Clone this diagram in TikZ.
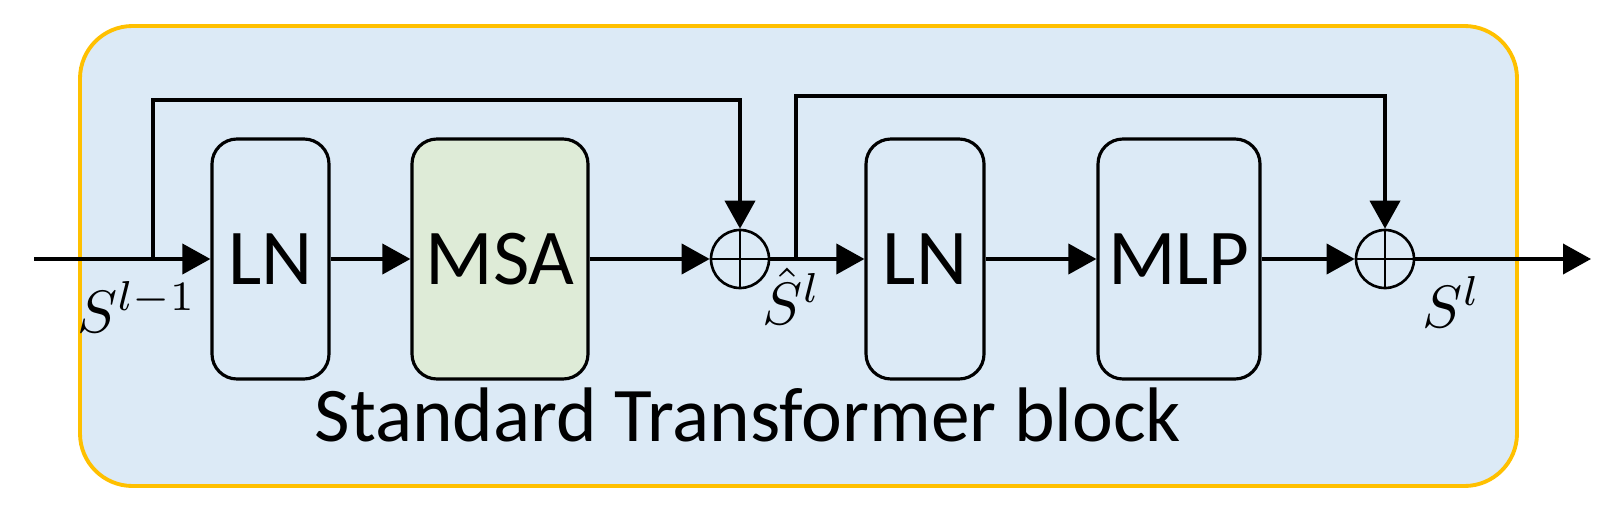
\documentclass[tikz,border=0pt]{standalone}
\usepackage{amsmath}
\usepackage{graphicx}
\usepackage{fontspec}
\setmainfont{Carlito}
\usepackage{tikz}
\usetikzlibrary{positioning, arrows.meta, calc}
\usepackage{xcolor}
\definecolor{blockblue}{HTML}{DCEAF6}
\definecolor{blockedge}{HTML}{FFC000}
\definecolor{msagreen}{HTML}{DEEBD7}
\newcommand{\biglbl}[1]{\scalebox{3.4}{$#1$}}

\begin{document}
\begin{tikzpicture}[
  blk/.style={draw, line width=1.8pt, rounded corners=0.5cm, minimum height=4.8cm, inner sep=0pt, font=\fontsize{45}{48}\selectfont},
  addop/.style={draw, circle, line width=1.5pt, minimum size=1.16cm, inner sep=0pt},
  wire/.style={line width=2.2pt},
  flow/.style={wire, -{Triangle[length=0.56cm, width=0.6cm]}}
]
\useasboundingbox (0,0) rectangle (32.4,10.38);
\node[draw=blockedge, fill=blockblue, line width=2.2pt, rounded corners=1.05cm, minimum width=28.74cm, minimum height=9.2cm] (block) at (15.97,5.26) {};

\node[blk, minimum width=2.34cm] (ln1) at (5.41,5.2) {LN};
\node[blk, fill=msagreen, minimum width=3.52cm] (msa) at (10.0,5.2) {MSA};
\node[addop] (add1) at (14.8,5.2) {};
\node[blk, minimum width=2.36cm] (ln2) at (18.5,5.2) {LN};
\node[blk, minimum width=3.24cm] (mlp) at (23.58,5.2) {MLP};
\node[addop] (add2) at (27.7,5.2) {};
\draw[line width=1.5pt] (add1.north) -- (add1.south) (add1.west) -- (add1.east);
\draw[line width=1.5pt] (add2.north) -- (add2.south) (add2.west) -- (add2.east);

\coordinate (in) at (0.68,5.2);
\coordinate (br1) at (3.06,5.2);
\coordinate (br2) at (15.92,5.2);
\coordinate (out) at (31.82,5.2);

\draw[wire] (in) -- (br1);
\draw[flow] (br1) -- (ln1);
\draw[flow] (ln1) -- (msa);
\draw[flow] (msa) -- (add1);
\draw[wire] (add1) -- (br2);
\draw[flow] (br2) -- (ln2);
\draw[flow] (ln2) -- (mlp);
\draw[flow] (mlp) -- (add2);
\draw[flow] (add2) -- (out);
\draw[flow] (br1) -- ++(0,3.18) -| (add1);
\draw[flow] (br2) -- ++(0,3.26) -| (add2);

\node (sin) at (2.74,4.24) {\biglbl{S^{l-1}}};
\node (shat) at (15.84,4.46) {\biglbl{\hat{S}^{l}}};
\node (sout) at (29.04,4.34) {\biglbl{S^{l}}};
\node[font=\fontsize{44}{46}\selectfont] (title) at (14.96,2.08) {Standard Transformer block};
\end{tikzpicture}
\end{document}
